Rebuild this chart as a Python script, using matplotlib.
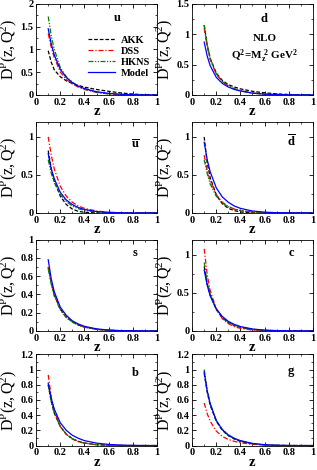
import numpy as np
import matplotlib
matplotlib.use("Agg")
import matplotlib.pyplot as plt
from matplotlib.ticker import MultipleLocator, AutoMinorLocator, FuncFormatter

plt.rcParams['font.family'] = ['Liberation Serif', 'DejaVu Serif']
plt.rcParams['font.weight'] = 'bold'
plt.rcParams['mathtext.fontset'] = 'custom'
plt.rcParams['mathtext.rm'] = 'Liberation Serif:normal'
plt.rcParams['mathtext.it'] = 'Liberation Serif:normal'
plt.rcParams['mathtext.bf'] = 'Liberation Serif:bold'

# z grid shared by all curves
z = [0.1, 0.125, 0.15, 0.2, 0.25, 0.3, 0.35, 0.4, 0.5, 0.6, 0.7, 0.8, 0.9, 1.0]

# D^P(z,Q^2), per parton: AKK, DSS, HKNS, Model
u_akk   = [0.97, 0.72, 0.55, 0.40, 0.31, 0.25, 0.21, 0.17, 0.12, 0.08, 0.045, 0.02, 0.005, 0.0]
u_dss   = [1.35, 1.05, 0.82, 0.50, 0.34, 0.24, 0.17, 0.12, 0.055, 0.022, 0.008, 0.002, 0.0, 0.0]
u_hkns  = [1.72, 1.30, 1.00, 0.60, 0.40, 0.28, 0.19, 0.13, 0.06, 0.025, 0.009, 0.002, 0.0, 0.0]
u_model = [1.45, 1.12, 0.88, 0.56, 0.38, 0.27, 0.19, 0.14, 0.07, 0.035, 0.015, 0.005, 0.001, 0.0]

d_akk   = [1.15, 0.82, 0.60, 0.36, 0.24, 0.17, 0.13, 0.10, 0.06, 0.035, 0.018, 0.007, 0.002, 0.0]
d_dss   = [1.10, 0.80, 0.58, 0.34, 0.22, 0.15, 0.10, 0.07, 0.03, 0.012, 0.004, 0.001, 0.0, 0.0]
d_hkns  = [1.15, 0.83, 0.60, 0.35, 0.22, 0.15, 0.10, 0.07, 0.03, 0.012, 0.004, 0.001, 0.0, 0.0]
d_model = [0.87, 0.64, 0.48, 0.29, 0.19, 0.13, 0.09, 0.065, 0.03, 0.014, 0.006, 0.002, 0.0, 0.0]

ub_akk   = [0.82, 0.58, 0.42, 0.22, 0.11, 0.05, 0.02, 0.008, 0.0, 0.0, 0.0, 0.0, 0.0, 0.0]
ub_dss   = [1.00, 0.76, 0.58, 0.35, 0.22, 0.14, 0.09, 0.06, 0.025, 0.008, 0.002, 0.0, 0.0, 0.0]
ub_hkns  = [0.70, 0.52, 0.40, 0.24, 0.15, 0.09, 0.055, 0.033, 0.012, 0.004, 0.001, 0.0, 0.0, 0.0]
ub_model = [0.78, 0.58, 0.45, 0.27, 0.17, 0.11, 0.07, 0.045, 0.018, 0.007, 0.002, 0.0, 0.0, 0.0]

db_akk   = [1.00, 0.66, 0.46, 0.24, 0.12, 0.06, 0.03, 0.012, 0.002, 0.0, 0.0, 0.0, 0.0, 0.0]
db_dss   = [0.76, 0.56, 0.42, 0.24, 0.14, 0.085, 0.05, 0.03, 0.01, 0.003, 0.0, 0.0, 0.0, 0.0]
db_hkns  = [0.70, 0.52, 0.38, 0.22, 0.13, 0.08, 0.05, 0.03, 0.01, 0.003, 0.0, 0.0, 0.0, 0.0]
db_model = [0.93, 0.70, 0.54, 0.33, 0.21, 0.14, 0.09, 0.06, 0.025, 0.01, 0.003, 0.001, 0.0, 0.0]

s_akk   = [0.70, 0.53, 0.40, 0.24, 0.15, 0.10, 0.065, 0.042, 0.017, 0.006, 0.002, 0.0, 0.0, 0.0]
s_dss   = [0.70, 0.53, 0.40, 0.24, 0.15, 0.10, 0.065, 0.042, 0.017, 0.006, 0.002, 0.0, 0.0, 0.0]
s_hkns  = [0.68, 0.51, 0.38, 0.23, 0.145, 0.095, 0.062, 0.04, 0.016, 0.006, 0.002, 0.0, 0.0, 0.0]
s_model = [0.78, 0.57, 0.43, 0.26, 0.17, 0.11, 0.075, 0.05, 0.022, 0.009, 0.003, 0.001, 0.0, 0.0]

c_akk   = [0.85, 0.62, 0.47, 0.28, 0.17, 0.11, 0.07, 0.045, 0.017, 0.006, 0.002, 0.0, 0.0, 0.0]
c_dss   = [1.08, 0.74, 0.53, 0.29, 0.16, 0.095, 0.055, 0.033, 0.01, 0.003, 0.0, 0.0, 0.0, 0.0]
c_hkns  = [0.90, 0.65, 0.49, 0.29, 0.18, 0.115, 0.075, 0.05, 0.02, 0.007, 0.002, 0.0, 0.0, 0.0]
c_model = [0.80, 0.60, 0.46, 0.29, 0.19, 0.125, 0.085, 0.057, 0.025, 0.01, 0.004, 0.001, 0.0, 0.0]

b_akk   = [0.80, 0.58, 0.43, 0.25, 0.15, 0.09, 0.055, 0.033, 0.012, 0.004, 0.001, 0.0, 0.0, 0.0]
b_dss   = [0.93, 0.64, 0.46, 0.25, 0.145, 0.085, 0.05, 0.03, 0.01, 0.003, 0.0, 0.0, 0.0, 0.0]
b_hkns  = [0.80, 0.58, 0.43, 0.25, 0.15, 0.09, 0.055, 0.033, 0.012, 0.004, 0.001, 0.0, 0.0, 0.0]
b_model = [0.82, 0.62, 0.48, 0.30, 0.20, 0.135, 0.095, 0.065, 0.032, 0.015, 0.006, 0.002, 0.0, 0.0]

g_akk   = [0.95, 0.70, 0.53, 0.32, 0.20, 0.13, 0.085, 0.055, 0.022, 0.008, 0.002, 0.0, 0.0, 0.0]
g_dss   = [0.56, 0.42, 0.32, 0.19, 0.12, 0.08, 0.055, 0.037, 0.016, 0.006, 0.002, 0.0, 0.0, 0.0]
g_hkns  = [1.00, 0.73, 0.55, 0.33, 0.21, 0.135, 0.09, 0.06, 0.025, 0.01, 0.003, 0.001, 0.0, 0.0]
g_model = [0.97, 0.72, 0.55, 0.33, 0.21, 0.14, 0.095, 0.065, 0.028, 0.011, 0.004, 0.001, 0.0, 0.0]

# key, label, curves, ymax, y tick step, label position (axes fraction)
panels = [
    ('u', r'$\mathbf{u}$', (u_akk, u_dss, u_hkns, u_model), 2.0, 0.5, (0.67, 0.84)),
    ('d', r'$\mathbf{d}$', (d_akk, d_dss, d_hkns, d_model), 1.5, 0.5, (0.6, 0.84)),
    ('ub', r'$\mathbf{\overline{u}}$', (ub_akk, ub_dss, ub_hkns, ub_model), 1.2, 0.5, (0.82, 0.74)),
    ('db', r'$\mathbf{\overline{d}}$', (db_akk, db_dss, db_hkns, db_model), 1.2, 0.5, (0.82, 0.78)),
    ('s', r'$\mathbf{s}$', (s_akk, s_dss, s_hkns, s_model), 1.0, 0.2, (0.82, 0.85)),
    ('c', r'$\mathbf{c}$', (c_akk, c_dss, c_hkns, c_model), 1.2, 0.5, (0.82, 0.85)),
    ('b', r'$\mathbf{b}$', (b_akk, b_dss, b_hkns, b_model), 1.2, 0.2, (0.82, 0.8)),
    ('g', r'$\mathbf{g}$', (g_akk, g_dss, g_hkns, g_model), 1.2, 0.2, (0.82, 0.81)),
]

labels = ['AKK', 'DSS', 'HKNS', 'Model']
colors = ['black', 'red', 'green', 'blue']
styles = [(0, (3, 1.5)), (0, (4, 1.5, 1, 1.5)), (0, (4, 1.2, 1, 1.2, 1, 1.2)), '-']

fig = plt.figure(figsize=(3.17, 4.70), dpi=100)
lefts = [0.114, 0.606]
bottoms = [0.798, 0.547, 0.296, 0.052]
w, h = 0.381, 0.194

fmt = FuncFormatter(lambda v, p: '%g' % round(v, 2))

for i, (key, name, curves, ymax, ystep, pos) in enumerate(panels):
    ax = fig.add_axes([lefts[i % 2], bottoms[i // 2], w, h])
    for ys, lab, col, ls in zip(curves, labels, colors, styles):
        ax.plot(z, ys, color=col, ls=ls, lw=0.9, label=lab)
    ax.set_xlim(0, 1)
    ax.set_ylim(0, ymax)
    ax.xaxis.set_major_locator(MultipleLocator(0.2))
    ax.yaxis.set_major_locator(MultipleLocator(ystep))
    ax.xaxis.set_minor_locator(AutoMinorLocator(2))
    ax.yaxis.set_minor_locator(AutoMinorLocator(2))
    ax.xaxis.set_major_formatter(fmt)
    ax.yaxis.set_major_formatter(fmt)
    ax.tick_params(which='both', direction='in', top=True, right=True, labelsize=7.5, pad=2)
    ax.tick_params(which='major', length=3, width=0.6)
    ax.tick_params(which='minor', length=1.5, width=0.5)
    for sp in ax.spines.values():
        sp.set_linewidth(0.6)
    ax.set_xlabel('z', fontsize=10.5, fontweight='bold', labelpad=-1)
    ax.set_ylabel(r'$\mathrm{D^P(z,Q^2)}$', fontsize=11.5, labelpad=1)
    ax.text(pos[0], pos[1], name, transform=ax.transAxes, fontsize=9,
            ha='center', va='center')
    if key == 'u':
        ax.legend(loc='center left', bbox_to_anchor=(0.35, 0.42), frameon=False,
                  handlelength=2.6, labelspacing=0.15, handletextpad=0.6,
                  prop={'weight': 'bold', 'size': 7.5})
    elif key == 'd':
        ax.text(0.6, 0.62, 'NLO', transform=ax.transAxes, fontsize=8, ha='center',
                va='center', fontweight='bold')
        ax.text(0.6, 0.42, r'$\mathbf{Q^2\!=\!M_z^{\ 2}\ GeV^2}$', transform=ax.transAxes,
                fontsize=8, ha='center', va='center')

fig.savefig('out.png', dpi=100)
